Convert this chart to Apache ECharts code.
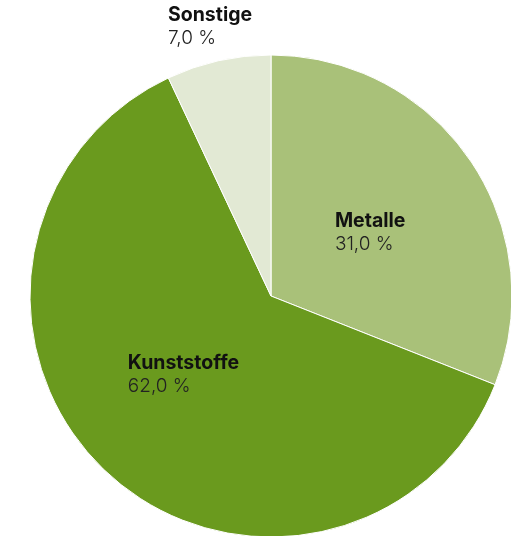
<!DOCTYPE html>
<html><head><meta charset="utf-8">
<script src="https://cdn.jsdelivr.net/npm/echarts@6/dist/echarts.min.js"></script>
<style>html,body{margin:0;padding:0;background:#fff}#c{width:511px;height:536px}</style>
</head><body><div id="c"></div>
<script>
const categories = ["Metalle", "Kunststoffe", "Sonstige"];
const values = [31.0, 62.0, 7.0];
const colors = ["#a9c179", "#6a9a1e", "#e2e9d4"];

const chart = echarts.init(document.getElementById('c'), null, {renderer: 'canvas'});
const fmt = v => v.toFixed(1).replace('.', ',') + ' %';
const rich = {
  n: {fontFamily: 'Inter', fontWeight: 'bold', fontSize: 19.5, color: '#111', align: 'left', lineHeight: 23},
  v: {fontFamily: 'Inter', fontWeight: 300, fontSize: 19, color: '#222', align: 'left', lineHeight: 23}
};
const data = categories.map((c, i) => {
  const d = {name: c, value: values[i], itemStyle: {color: colors[i]}};
  if (i === 2) {
    d.label = {position: 'outside'};
    d.labelLine = {show: false, length: 0, length2: 0};
  }
  return d;
});
chart.setOption({
  animation: false,
  series: [{
    type: 'pie',
    center: [271, 296],
    radius: [0, 241],
    startAngle: 90,
    clockwise: true,
    data: data,
    itemStyle: {borderColor: '#fff', borderWidth: 1},
    label: {
      show: true,
      position: 'inside',
      formatter: p => '{n|' + p.name + '}\n{v|' + fmt(p.value) + '}',
      rich: rich
    },
    labelLine: {show: false},
    labelLayout: function (p) {
      if (p.dataIndex === 2) {
        return {x: 168, y: 27, align: 'left', verticalAlign: 'middle'};
      }
      if (p.dataIndex === 0) return {dx: -3, dy: 6};
      if (p.dataIndex === 1) return {dx: -3, dy: -11};
      return {};
    }
  }]
});
</script></body></html>
